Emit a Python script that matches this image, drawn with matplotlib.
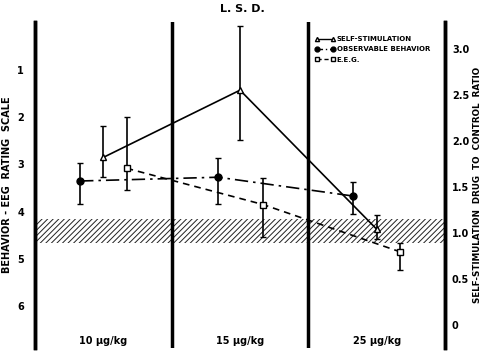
import matplotlib.pyplot as plt
from matplotlib.lines import Line2D
import numpy as np

plt.rcParams['font.family'] = 'DejaVu Sans'
plt.rcParams['font.weight'] = 'bold'
plt.rcParams['axes.labelweight'] = 'bold'
plt.rcParams['hatch.linewidth'] = 0.7

doses = ['10 \u03bcg/kg', '15 \u03bcg/kg', '25 \u03bcg/kg']

# self-stimulation (right scale: drug/control ratio)
ss_x = [0.50, 1.50, 2.50]
ss_y = [1.82, 2.55, 1.04]
ss_lo = [1.61, 2.01, 0.93]
ss_hi = [2.16, 3.25, 1.19]

# observable behavior (left scale: rating)
ob_x = [0.33, 1.34, 2.33]
ob_y = [3.35, 3.27, 3.67]
ob_lo = [2.96, 2.86, 3.37]
ob_hi = [3.84, 3.84, 4.05]

# EEG (left scale: rating)
eeg_x = [0.67, 1.67, 2.67]
eeg_y = [3.08, 3.85, 4.85]
eeg_lo = [1.99, 3.28, 4.66]
eeg_hi = [3.54, 4.54, 5.24]

band = (4.15, 4.67)

fig = plt.figure(figsize=(4.83, 3.52), dpi=100)
ax = fig.add_axes([0.0725, 0.0114, 0.8489, 0.926])
ax.set_xlim(0, 3)
ax.set_ylim(6.89, -0.02)
ax2 = ax.twinx()
ax2.set_ylim(-0.25, 3.29)

for a in (ax, ax2):
    a.spines['top'].set_visible(False)
    a.spines['bottom'].set_visible(False)
    a.spines['left'].set_linewidth(2.5)
    a.spines['right'].set_linewidth(2.5)
    a.tick_params(length=0, labelsize=7)
ax.set_xticks([])

ax.axhspan(band[0], band[1], facecolor='white', edgecolor='#222222', hatch='//////', lw=0)
for xv in (1, 2):
    ax.axvline(xv, color='black', lw=2.5)

err = lambda y, lo, hi: [np.array(y) - np.array(lo), np.array(hi) - np.array(y)]

ob_ls = (0, (8, 3, 1.5, 3))
eeg_ls = (0, (4, 3))
ax.errorbar(ob_x, ob_y, yerr=err(ob_y, ob_lo, ob_hi), fmt='o', color='black',
            ms=5, capsize=2, elinewidth=1.2, ls=ob_ls, lw=1.2)
ax.errorbar(eeg_x, eeg_y, yerr=err(eeg_y, eeg_lo, eeg_hi), fmt='s', color='black',
            mfc='white', ms=4.5, capsize=2, elinewidth=1.2, ls=eeg_ls, lw=1.2)
ax2.errorbar(ss_x, ss_y, yerr=err(ss_y, ss_lo, ss_hi), fmt='^', color='black',
             mfc='white', ms=4.5, capsize=2, elinewidth=1.2, ls='-', lw=1.2)

ax.set_yticks([1, 2, 3, 4, 5, 6])
ax.tick_params(axis='y', pad=8)
ax2.set_yticks([0, 0.5, 1.0, 1.5, 2.0, 2.5, 3.0])
ax2.set_yticklabels(['0', '0.5', '1.0', '1.5', '2.0', '2.5', '3.0'])
ax2.tick_params(axis='y', pad=5)

ax.set_ylabel('BEHAVIOR - EEG  RATING  SCALE', fontsize=7, labelpad=4)
ax2.set_ylabel('SELF-STIMULATION  DRUG  TO  CONTROL  RATIO', fontsize=6.3, labelpad=3)

for i, d in enumerate(doses):
    ax.text(i + 0.5, 6.75, d, ha='center', va='center', fontsize=7)

ax.text(1.52, -0.2, 'L. S. D.', ha='center', va='bottom', fontsize=8)

handles = [
    Line2D([], [], color='black', lw=1, marker='^', mfc='white', ms=3),
    Line2D([], [], color='black', lw=1, ls=(0, (4, 2, 1, 2)), marker='o', ms=3.5),
    Line2D([], [], color='black', lw=1, ls=(0, (3, 2)), marker='s', mfc='white', ms=3),
]
labels = ['SELF-STIMULATION', 'OBSERVABLE BEHAVIOR', 'E.E.G.']
ax2.legend(handles, labels, loc='upper left', bbox_to_anchor=(0.675, 0.965),
           frameon=False, fontsize=5, handlelength=3.0, handletextpad=0.2,
           labelspacing=0.6, borderaxespad=0, numpoints=2)

fig.savefig('out.png', dpi=100)
